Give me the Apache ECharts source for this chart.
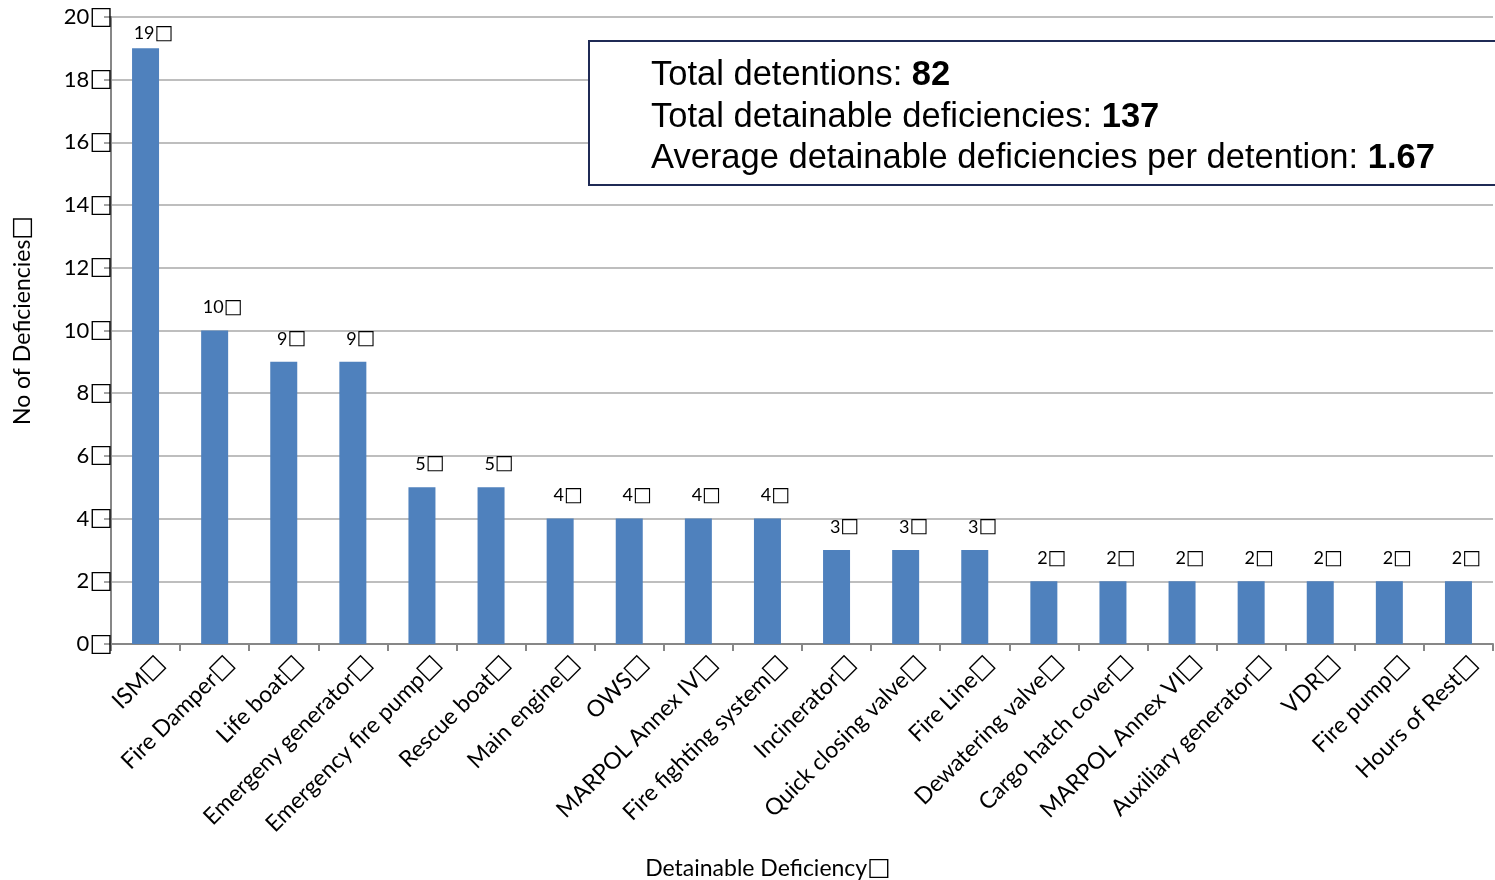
<!DOCTYPE html>
<html>
<head>
<meta charset="utf-8">
<script src="https://cdn.jsdelivr.net/npm/echarts@6/dist/echarts.min.js"></script>
<style>
  html, body { margin: 0; padding: 0; background: #fff; }
  #chart { width: 1495px; height: 880px; }
</style>
</head>
<body>
<div id="chart"></div>
<script>
// data
var categories = [
  "ISM", "Fire Damper", "Life boat", "Emergeny generator", "Emergency fire pump",
  "Rescue boat", "Main engine", "OWS", "MARPOL Annex IV", "Fire fighting system",
  "Incinerator", "Quick closing valve", "Fire Line", "Dewatering valve", "Cargo hatch cover",
  "MARPOL Annex VI", "Auxiliary generator", "VDR", "Fire pump", "Hours of Rest"
];
var deficiencies = [19, 10, 9, 9, 5, 5, 4, 4, 4, 4, 3, 3, 3, 2, 2, 2, 2, 2, 2, 2];
var yTicks = [0, 2, 4, 6, 8, 10, 12, 14, 16, 18, 20];
var summaryLines = [
  ["Total detentions: ", "82"],
  ["Total detainable deficiencies: ", "137"],
  ["Average detainable deficiencies per detention: ", "1.67"]
];

var BOX = "\u25A1";
var labelFont = "Lato, 'Noto Sans', sans-serif";
var boxFont = "'DejaVu Sans', sans-serif";

// text + missing-glyph box, as rich text
function withBox(t) { return "{t|" + t + "}{x|" + BOX + "}"; }
function richFor(size, boxSize) {
  return {
    t: { fontFamily: labelFont, fontSize: size, color: "#000" },
    x: { fontFamily: boxFont, fontSize: boxSize, color: "#000" }
  };
}

var chart = echarts.init(document.getElementById("chart"));

var summaryText = summaryLines.map(function (l) {
  return "{n|" + l[0] + "}{b|" + l[1] + "}";
}).join("\n");

// tallest bar's label sits closer (squeezed under the top of the plot)
var barData = deficiencies.map(function (v, i) {
  return i === 0 ? { value: v, label: { distance: 5 } } : v;
});

chart.setOption({
  animation: false,
  grid: { left: 111, right: 2, top: 17, bottom: 236, containLabel: false, outerBoundsMode: "none" },
  xAxis: {
    type: "category",
    data: categories,
    name: withBox("Detainable Deficiency"),
    nameLocation: "middle",
    nameGap: 212,
    nameTextStyle: { rich: richFor(23, 25), padding: [0, 68, 0, 0] },
    axisLine: { lineStyle: { color: "#878787", width: 2 } },
    axisTick: { show: true, length: 7, lineStyle: { color: "#878787", width: 2 } },
    axisLabel: {
      rotate: 45,
      interval: 0,
      margin: 0,
      verticalAlign: "top",
      padding: [10, 0, 0, 0],
      rich: richFor(23, 25),
      formatter: function (v) { return withBox(v); }
    }
  },
  yAxis: {
    type: "value",
    min: yTicks[0],
    max: yTicks[yTicks.length - 1],
    interval: 2,
    name: withBox("No of Deficiencies"),
    nameLocation: "middle",
    nameGap: 76,
    nameTextStyle: { rich: richFor(23, 25), padding: [0, 0, 0, 20] },
    axisLine: { show: true, lineStyle: { color: "#878787", width: 2 } },
    axisTick: { show: true, length: 7, lineStyle: { color: "#878787", width: 1.5 } },
    axisLabel: {
      margin: -2,
      rich: richFor(22, 25),
      formatter: function (v) { return withBox(v); }
    },
    splitLine: { lineStyle: { color: "#a8a8a8", width: 1.5 } }
  },
  series: [{
    type: "bar",
    data: barData,
    barWidth: 27,
    itemStyle: { color: "#4f81bd" },
    label: {
      show: true,
      position: "top",
      offset: [8, 0],
      distance: 13,
      rich: richFor(18, 20),
      formatter: function (p) { return withBox(p.value); }
    }
  }],
  graphic: [{
    type: "group",
    left: 588,
    top: 40,
    z: 100,
    children: [{
      type: "rect",
      z: 100,
      shape: { x: 0, y: 0, width: 960, height: 144 },
      style: { fill: "#fff", stroke: "#1f2a55", lineWidth: 2 }
    }, {
      type: "text",
      z: 101,
      x: 62,
      y: 14,
      style: {
        text: summaryText,
        rich: {
          n: { fontFamily: "'Liberation Sans', Arial, sans-serif", fontSize: 34.5, color: "#262b5c", lineHeight: 41.5 },
          b: { fontFamily: "'Liberation Sans', Arial, sans-serif", fontSize: 34.5, fontWeight: "bold", color: "#1f2a55", lineHeight: 41.5 }
        }
      }
    }]
  }]
});
</script>
</body>
</html>
